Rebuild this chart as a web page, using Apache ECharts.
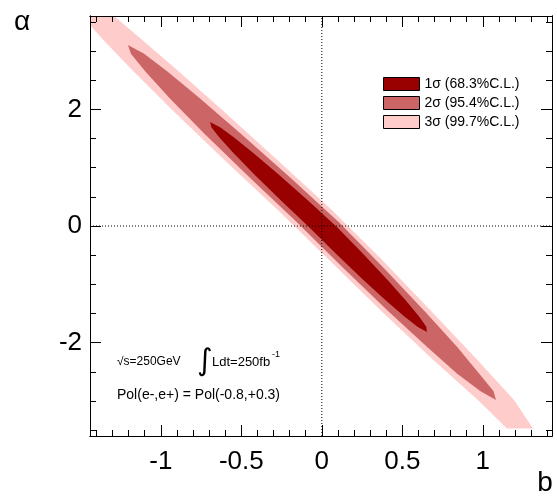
<!DOCTYPE html>
<html><head><meta charset="utf-8">
<script src="https://cdn.jsdelivr.net/npm/echarts@6/dist/echarts.min.js"></script>
<style>html,body{margin:0;padding:0;background:#fff}#c{width:557px;height:497px}</style>
</head><body><div id="c"></div>
<script>
// ---- data ----
const seriesNames = ['1σ (68.3%C.L.)', '2σ (95.4%C.L.)', '3σ (99.7%C.L.)'];
const seriesColors = ['#990000', '#cc6666', '#ffcccc'];
// contour outlines, [b, a] pairs
const contour1 = [
  [-0.694,1.783],[-0.632,1.693],[-0.543,1.513],[-0.422,1.243],[-0.268,0.883],[-0.084,0.433],
  [0.094,-0.017],[0.253,-0.467],[0.406,-0.917],[0.522,-1.277],[0.603,-1.547],[0.649,-1.727],[0.653,-1.817],
  [0.594,-1.727],[0.511,-1.547],[0.398,-1.277],[0.255,-0.917],[0.085,-0.467],[-0.080,-0.017],
  [-0.252,0.433],[-0.419,0.883],[-0.546,1.243],[-0.635,1.513],[-0.686,1.693]
];
const contour2 = [
  [-1.204,3.103],[-1.104,2.951],[-0.959,2.647],[-0.758,2.190],[-0.503,1.582],[-0.193,0.821],
  [0.108,0.060],[0.379,-0.701],[0.639,-1.462],[0.840,-2.070],[0.977,-2.527],[1.067,-2.831],[1.082,-2.983],
  [0.986,-2.831],[0.839,-2.527],[0.653,-2.070],[0.413,-1.462],[0.127,-0.701],[-0.153,0.060],
  [-0.445,0.821],[-0.729,1.582],[-0.945,2.190],[-1.096,2.647],[-1.186,2.951]
];
const contour3 = [
  [-1.44,3.6],[-1.291,3.6],[-1.115,3.189],[-0.899,2.674],[-0.619,1.989],[-0.276,1.131],[0.062,0.274],
  [0.375,-0.583],[0.673,-1.440],[0.967,-2.297],[1.194,-2.983],[1.312,-3.47],
  [1.150,-3.47],[0.970,-2.983],[0.693,-2.297],[0.363,-1.440],[0.046,-0.583],[-0.273,0.274],
  [-0.605,1.131],[-0.929,1.989],[-1.178,2.674],[-1.357,3.189],[-1.44,3.446]
];
const xRange = [-1.44, 1.43];
const yRange = [-3.6, 3.6];
const xMajorTicks = [-1, -0.5, 0, 0.5, 1];
const xMinorTicks = [-1.4,-1.3,-1.2,-1.1,-0.9,-0.8,-0.7,-0.6,-0.4,-0.3,-0.2,-0.1,0.1,0.2,0.3,0.4,0.6,0.7,0.8,0.9,1.1,1.2,1.3,1.4];
const yMajorTicks = [-2, 0, 2];
const yMinorTicks = [-3.5,-3,-2.5,-1.5,-1,-0.5,0.5,1,1.5,2.5,3,3.5];
const xZeroLine = [[0, -3.6], [0, 3.6]];
const yZeroLine = [[-1.44, 0], [1.43, 0]];
const xTitle = 'b';
const yTitle = 'α';
const noteLine1 = ['√s=250GeV', '∫', 'Ldt=250fb', '-1'];
const noteLine2 = 'Pol(e-,e+) = Pol(-0.8,+0.3)';

const FONT = 'Liberation Sans';

function axisCfg(dim, pos, ticks, len, labels) {
  const r = dim === 'x' ? xRange : yRange;
  return {
    type: 'value', position: pos, min: r[0], max: r[1], z: 10,
    axisLine: { show: true, onZero: false, lineStyle: { color: '#000', width: 1 } },
    splitLine: { show: false },
    axisTick: { show: true, inside: true, length: len, customValues: ticks, lineStyle: { color: '#000', width: 1 } },
    axisLabel: labels ? {
      show: true, customValues: ticks, fontFamily: FONT, fontSize: 26, color: '#000',
      margin: dim === 'x' ? 13 : 8
    } : { show: false }
  };
}

function polygonRenderer(points, color) {
  return function (params, api) {
    if (params.dataIndex !== 0) return null;
    return {
      type: 'polygon',
      shape: { points: points.map(p => api.coord(p)) },
      style: { fill: color }
    };
  };
}

const contours = [contour1, contour2, contour3];
const series = [];
for (let i = 2; i >= 0; i--) {
  series.push({
    type: 'custom', name: seriesNames[i], coordinateSystem: 'cartesian2d',
    xAxisIndex: 0, yAxisIndex: 0, clip: true, z: 2,
    itemStyle: { color: seriesColors[i] },
    renderItem: polygonRenderer(contours[i], seriesColors[i]),
    data: contours[i]
  });
}
[xZeroLine, yZeroLine].forEach(d => series.push({
  type: 'line', data: d, symbol: 'none', z: 5, silent: true,
  lineStyle: { color: '#000', width: 1, type: [1, 2] }
}));

const chart = echarts.init(document.getElementById('c'), null, { renderer: 'canvas' });
chart.setOption({
  animation: false,
  backgroundColor: '#fff',
  grid: { left: 90, top: 16, width: 462, height: 420, containLabel: false },
  xAxis: [
    axisCfg('x', 'bottom', xMajorTicks, 11, true),
    axisCfg('x', 'bottom', xMinorTicks, 6, false),
    axisCfg('x', 'top', xMajorTicks, 11, false),
    axisCfg('x', 'top', xMinorTicks, 6, false)
  ],
  yAxis: [
    axisCfg('y', 'left', yMajorTicks, 11, true),
    axisCfg('y', 'left', yMinorTicks, 6, false),
    axisCfg('y', 'right', yMajorTicks, 11, false),
    axisCfg('y', 'right', yMinorTicks, 6, false)
  ],
  legend: {
    data: seriesNames, orient: 'vertical', left: 383, top: 77, padding: 0,
    itemWidth: 36, itemHeight: 13, itemGap: 5, icon: 'rect', selectedMode: false,
    itemStyle: { borderColor: '#000', borderWidth: 1 },
    textStyle: { fontFamily: FONT, fontSize: 14, color: '#000', lineHeight: 14 }
  },
  graphic: [
    { type: 'text', x: 22, y: 22, style: { text: yTitle, fontFamily: FONT, fontSize: 28, fill: '#000', align: 'center', verticalAlign: 'middle' } },
    { type: 'text', x: 545, y: 483, style: { text: xTitle, fontFamily: FONT, fontSize: 28, fill: '#000', align: 'center', verticalAlign: 'middle' } },
    { type: 'text', x: 117, y: 362, style: { text: noteLine1[0], fontFamily: FONT, fontSize: 12, fill: '#000', verticalAlign: 'middle' } },
    { type: 'text', x: 197, y: 362, style: { text: noteLine1[1], fontFamily: 'DejaVu Sans', fontSize: 30, fill: '#000', verticalAlign: 'middle' } },
    { type: 'text', x: 212, y: 362, style: { text: noteLine1[2], fontFamily: FONT, fontSize: 13, fill: '#000', verticalAlign: 'middle' } },
    { type: 'text', x: 272, y: 355, style: { text: noteLine1[3], fontFamily: FONT, fontSize: 9, fill: '#000', verticalAlign: 'middle' } },
    { type: 'text', x: 117, y: 395, style: { text: noteLine2, fontFamily: FONT, fontSize: 14, fill: '#000', verticalAlign: 'middle' } }
  ],
  series: series
});
</script></body></html>
